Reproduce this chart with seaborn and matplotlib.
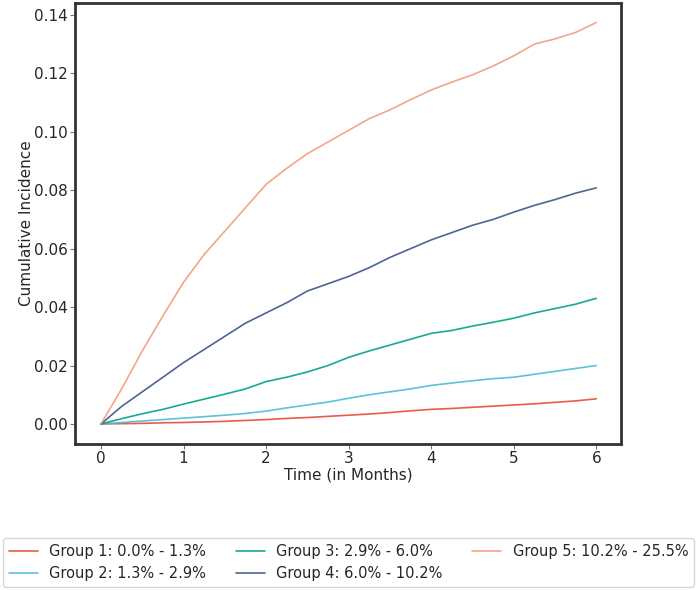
import numpy as np
import pandas as pd
import matplotlib
matplotlib.use("Agg")
import matplotlib.pyplot as plt
import seaborn as sns

# months
time = [0, 0.25, 0.5, 0.75, 1.0, 1.25, 1.5, 1.75, 2.0, 2.25, 2.5, 2.75, 3.0,
        3.25, 3.5, 3.75, 4.0, 4.25, 4.5, 4.75, 5.0, 5.25, 5.5, 5.75, 6.0]

group1 = [0, 0.0001, 0.0002, 0.0004, 0.0005, 0.0007, 0.0009, 0.0012, 0.0015, 0.0019,
          0.0022, 0.0026, 0.0030, 0.0034, 0.0039, 0.0045, 0.0050, 0.0053, 0.0057,
          0.0061, 0.0065, 0.0069, 0.0074, 0.0079, 0.0086]
group2 = [0, 0.0005, 0.0010, 0.0015, 0.0020, 0.0025, 0.0030, 0.0036, 0.0044, 0.0055,
          0.0065, 0.0075, 0.0088, 0.0100, 0.0110, 0.0120, 0.0132, 0.0140, 0.0148,
          0.0155, 0.0160, 0.0170, 0.0180, 0.0190, 0.0200]
group3 = [0, 0.0018, 0.0035, 0.0050, 0.0068, 0.0085, 0.0102, 0.0120, 0.0145, 0.0160,
          0.0178, 0.0200, 0.0228, 0.0250, 0.0270, 0.0290, 0.0310, 0.0320, 0.0335,
          0.0348, 0.0362, 0.0380, 0.0395, 0.0410, 0.0430]
group4 = [0, 0.0060, 0.0110, 0.0160, 0.0210, 0.0255, 0.0300, 0.0345, 0.0380, 0.0415,
          0.0455, 0.0480, 0.0505, 0.0535, 0.0570, 0.0600, 0.0630, 0.0655, 0.0680,
          0.0700, 0.0725, 0.0748, 0.0768, 0.0790, 0.0808]
group5 = [0, 0.0120, 0.0250, 0.0370, 0.0485, 0.0580, 0.0660, 0.0740, 0.0820, 0.0875,
          0.0925, 0.0965, 0.1005, 0.1045, 0.1075, 0.1110, 0.1143, 0.1170, 0.1195,
          0.1225, 0.1260, 0.1300, 0.1318, 0.1340, 0.1374]

labels = ["Group 1: 0.0% - 1.3%", "Group 2: 1.3% - 2.9%", "Group 3: 2.9% - 6.0%",
          "Group 4: 6.0% - 10.2%", "Group 5: 10.2% - 25.5%"]
colors = ["#E64B35", "#4DBBD5", "#00A087", "#3C5488", "#F39B7F"]

rows = []
for label, values in zip(labels, [group1, group2, group3, group4, group5]):
    for t, v in zip(time, values):
        rows.append({"Time": t, "Incidence": v, "Group": label})
df = pd.DataFrame(rows)

sns.set_style("white")
plt.rcParams['font.family'] = ['DejaVu Sans']

fig = plt.figure(figsize=(6.97, 5.90), dpi=100)
ax = fig.add_axes([0.1076, 0.2475, 0.7834, 0.7475])
sns.lineplot(data=df, x="Time", y="Incidence", hue="Group", palette=colors,
             hue_order=labels, linewidth=1.2, alpha=0.9, ax=ax, legend=False)

ax.set_xlim(-0.315, 6.30)
ax.set_ylim(-0.00685, 0.1441)
ax.set_xticks(range(7))
yt = np.arange(0, 0.141, 0.02)
ax.set_yticks(yt)
ax.set_yticklabels([f"{v:.2f}" for v in yt])
ax.tick_params(labelsize=11, length=3.5, width=0.8, pad=1.5, color="#777777",
               bottom=True, left=True)
ax.set_xlabel("Time (in Months)", fontsize=11, labelpad=1)
ax.set_ylabel("Cumulative Incidence", fontsize=11, labelpad=0)
for s in ax.spines.values():
    s.set_color("#333333")
    s.set_linewidth(2)

handles = [plt.Line2D([], [], color=c, linewidth=1.2, alpha=0.9) for c in colors]
fig.legend(handles, labels, loc="upper center", ncol=3,
           bbox_to_anchor=(0.5, 0.088), fontsize=10.5, frameon=True,
           handlelength=2.0, handletextpad=0.8, columnspacing=2.0,
           edgecolor="#cccccc", borderaxespad=0)

fig.savefig("out.png", dpi=100)
